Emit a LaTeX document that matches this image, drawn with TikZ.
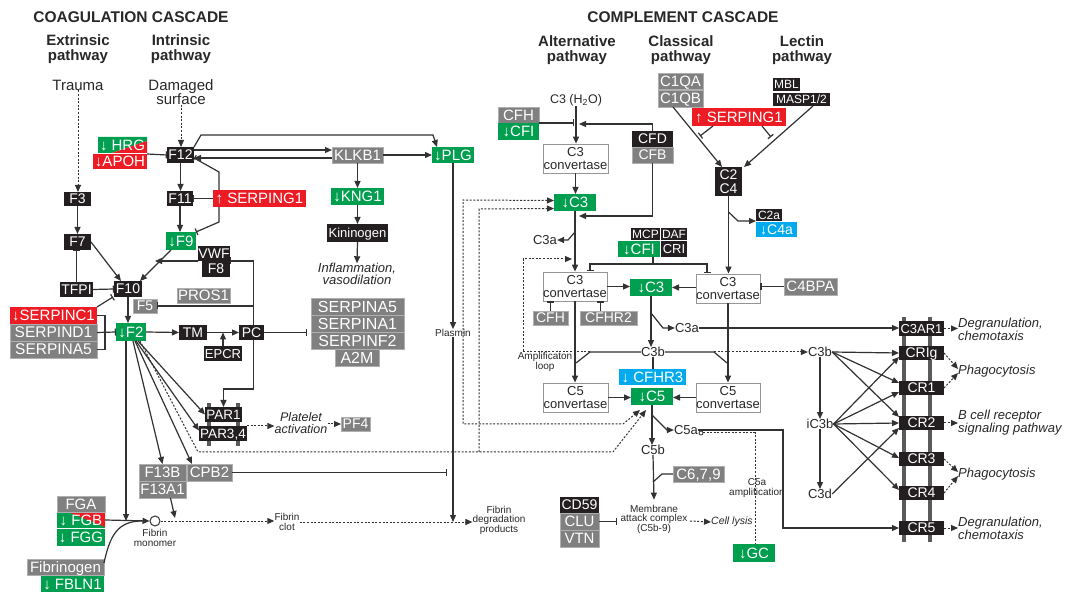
\documentclass[tikz,border=0pt]{standalone}
\usepackage{fontspec}
\setmainfont{Liberation Sans}
\usetikzlibrary{arrows.meta,calc}
\definecolor{kblack}{RGB}{35,31,32}
\definecolor{kgray}{RGB}{128,128,128}
\definecolor{kgrayb}{RGB}{175,175,175}
\definecolor{kgreen}{RGB}{0,158,79}
\definecolor{kred}{RGB}{237,28,36}
\definecolor{kblue}{RGB}{0,170,236}
\definecolor{lc}{RGB}{50,50,50}
\definecolor{tc}{RGB}{40,40,40}
\definecolor{barc}{RGB}{90,90,90}
\definecolor{convb}{RGB}{150,150,150}
\newcommand\fz[1]{\fontsize{#1}{#1}\selectfont}
\newcommand\B[7]{\node[#1, minimum width={(#5-#3)*1pt}, minimum height={(#6-#4)*1pt}] (#2) at ({(#3+#5)/2},{(#4+#6)/2}) {#7};}
\begin{document}
\begin{tikzpicture}[x=1pt,y=-1pt,
  bx/.style={rectangle, inner sep=0pt, outer sep=0pt, text=white, font=\fz{14}, text depth=0pt},
  fs/.style={font=\fz{#1}},
  blk/.style={bx, fill=kblack},
  gry/.style={bx, fill=kgray, draw=kgrayb, line width=0.6pt},
  grn/.style={bx, fill=kgreen},
  rdb/.style={bx, fill=kred},
  blu/.style={bx, fill=kblue},
  conv/.style={rectangle, inner sep=0pt, draw=convb, fill=white, line width=0.8pt, text=tc, align=center, font=\fontsize{13}{12.5}\selectfont},
  ln/.style={draw=lc, line width=1.2pt},
  ar/.style={ln, -{Triangle[length=7pt,width=6pt]}},
  inh/.style={ln, -{Bar[width=7pt]}},
  dt/.style={dash pattern=on 2pt off 1.6pt, line width=1pt},
  lab/.style={text=tc, inner sep=0pt, font=\fz{13}},
  sm/.style={text=tc, inner sep=0pt, align=center, font=\fontsize{10}{9.5}\selectfont},
  itl/.style={text=tc, inner sep=0pt, align=left, font=\itshape\fontsize{13}{11.5}\selectfont},
  hd/.style={text=tc, inner sep=0pt, align=center, font=\bfseries\fontsize{15}{14.5}\selectfont},
  big/.style={text=tc, inner sep=0pt, align=center, font=\fontsize{15}{14}\selectfont}
]
\useasboundingbox (0,0) rectangle (1074,593);
\fill[white] (0,0) rectangle (1074,593);

% ---------- headings ----------
\node[hd, font=\bfseries\fz{15.5}] (hcoag) at (131,17) {COAGULATION CASCADE};
\node[hd] (hext) at (78,49) {Extrinsic\\pathway};
\node[hd] (hint) at (181,49) {Intrinsic\\pathway};
\node[big] (trauma) at (78,85) {Trauma};
\node[big] (damaged) at (181,92) {Damaged\\surface};
\node[hd, font=\bfseries\fz{15.5}] (hcomp) at (683,17) {COMPLEMENT CASCADE};
\node[hd] (halt) at (577,50) {Alternative\\pathway};
\node[hd] (hcla) at (681,50) {Classical\\pathway};
\node[hd] (hlec) at (802,50) {Lectin\\pathway};

% ---------- membrane bars ----------
\fill[barc] (207,403) rectangle (210.5,446);
\fill[barc] (236,403) rectangle (239.5,446);
\fill[barc] (902,317) rectangle (906,542);
\fill[barc] (928,317) rectangle (932,542);

% ---------- split boxes ----------
\fill[kgreen] (98,137) -- (147,137) -- (147,141) -- (112,153) -- (98,153) -- cycle;
\fill[kred] (147,141) -- (147,153) -- (112,153) -- cycle;
\fill[kgreen] (57,512) rectangle (105,528);
\fill[kred] (68,512) -- (105,512) -- (105,527) -- cycle;

% ---------- coagulation boxes ----------
\B{bx,fs=15}{HRG}{98}{137}{147}{153}{↓ HRG}
\B{rdb,fs=15}{APOH}{93}{154}{147}{169}{↓APOH}
\B{blk}{F12}{167}{147}{194}{163}{F12}
\B{blk}{F3}{64}{192}{91}{206}{F3}
\B{blk}{F7}{64}{234}{91}{250}{F7}
\B{blk}{TFPI}{60}{282}{93}{297}{TFPI}
\B{blk}{F10}{114}{281}{142}{297}{F10}
\B{blk}{F11}{167}{191}{193}{206}{F11}
\B{rdb,fs=15}{SERPa}{213}{190}{306}{207}{↑ SERPING1}
\B{grn,fs=15}{F9}{166}{232}{196}{250}{↓F9}
\B{blk}{VWF}{198}{246}{230}{261}{VWF}
\B{blk}{F8}{202}{261}{230}{277}{F8}
\B{gry,fs=15}{PROS1}{177}{288}{230}{303}{PROS1}
\B{gry,fs=14}{F5}{133}{299}{157}{313}{F5}
\B{rdb,fs=15}{SPC1}{10}{307}{97}{324}{↓SERPINC1}
\B{gry,fs=15.5}{SPD1}{10}{324}{97}{341}{SERPIND1}
\B{gry,fs=15.5}{SPA5a}{10}{341}{97}{358}{SERPINA5}
\B{grn,fs=15}{F2}{116}{323}{146}{341}{↓F2}
\B{blk}{TM}{179}{325}{207}{340}{TM}
\B{blk}{PC}{239}{325}{264}{340}{PC}
\B{blk,fs=13}{EPCR}{204}{346}{242}{361}{EPCR}
\B{gry,fs=15}{KLKB1}{332}{147}{383}{163}{KLKB1}
\B{grn,fs=15}{PLG}{432}{147}{474}{163}{↓PLG}
\B{grn,fs=15}{KNG1}{331}{188}{384}{205}{↓KNG1}
\B{blk,fs=13}{Kin}{327}{224}{388}{242}{Kininogen}
\B{gry,fs=16}{SPA5b}{311}{298}{404}{315}{SERPINA5}
\B{gry,fs=16}{SPA1}{311}{315}{404}{332}{SERPINA1}
\B{gry,fs=16}{SPF2}{311}{332}{404}{349}{SERPINF2}
\B{gry,fs=16}{A2M}{335}{349}{379}{366}{A2M}
\B{blk,fs=13.5}{PAR1}{205}{407}{242}{422}{PAR1}
\B{blk,fs=13.5}{PAR34}{199}{426}{247}{441}{PAR3,4}
\B{gry,fs=14}{PF4}{341}{417}{370}{431}{PF4}
\B{gry,fs=15}{F13B}{139}{464}{186}{481}{F13B}
\B{gry,fs=15}{F13A1}{139}{481}{186}{498}{F13A1}
\B{gry,fs=15}{CPB2}{187}{464}{232}{481}{CPB2}
\B{gry,fs=15}{FGA}{57}{496}{105}{512}{FGA}
\B{bx,fs=15}{FGB}{57}{512}{105}{528}{↓ FGB}
\B{grn,fs=15}{FGG}{57}{529}{105}{546}{↓ FGG}
\B{gry,fs=15}{Fbg}{27}{559}{104}{575}{Fibrinogen}
\B{grn,fs=15}{FBLN1}{41}{576}{104}{592}{↓ FBLN1}

% ---------- coagulation labels ----------
\node[itl, align=center] (infl) at (357,274) {Inflammation,\\vasodilation};
\node[sm] (plasmin) at (453,333) {Plasmin};
\node[itl, align=center, font=\itshape\fontsize{12.5}{11.5}\selectfont] (plat) at (301,423) {Platelet\\activation};
\node[circle, draw=lc, line width=1pt, fill=white, minimum size=10pt, inner sep=0pt] (fm) at (155,521) {};
\node[sm] (fmtext) at (155,538) {Fibrin\\monomer};
\node[sm] (fclot) at (287,522) {Fibrin\\clot};
\node[sm] (fdp) at (499,520) {Fibrin\\degradation\\products};

% ---------- complement boxes ----------
\B{gry,fs=15}{CFH1}{498}{107}{539}{123}{CFH}
\B{grn,fs=15}{CFI1}{498}{123}{539}{140}{↓CFI}
\B{conv}{C3conv1}{543}{144}{608}{173}{C3\\convertase}
\B{blk,fs=14}{CFD}{632}{131}{673}{147}{CFD}
\B{gry,fs=14}{CFB}{632}{147}{673}{163}{CFB}
\B{grn,fs=15}{C3top}{554}{194}{596}{211}{↓C3}
\B{gry,fs=15}{C1QA}{658}{73}{703}{89}{C1QA}
\B{gry,fs=15}{C1QB}{658}{90}{703}{107}{C1QB}
\B{rdb,fs=15}{SERPb}{692}{108}{786}{126}{↑ SERPING1}
\B{blk,fs=12}{MBL}{773}{78}{800}{91}{MBL}
\B{blk,fs=12}{MASP}{773}{93}{830}{106}{MASP1/2}
\B{blk}{C2}{715}{167}{742}{182}{C2}
\B{blk}{C4}{715}{182}{742}{196}{C4}
\B{blk,fs=12}{C2a}{756}{209}{782}{221}{C2a}
\B{blu,fs=14}{C4a}{756}{222}{797}{237}{↓C4a}
\B{blk,fs=12}{MCP}{631}{228}{660}{240}{MCP}
\B{blk,fs=12}{DAF}{661}{228}{687}{240}{DAF}
\B{grn,fs=15}{CFI2}{618}{241}{660}{257}{↓CFI}
\B{blk,fs=13}{CRI}{661}{241}{687}{257}{CRI}
\B{conv}{C3conv2}{543}{272}{607}{301}{C3\\convertase}
\B{conv}{C3conv3}{696}{274}{760}{303}{C3\\convertase}
\B{gry,fs=15}{C4BPA}{784}{278}{837}{295}{C4BPA}
\B{grn,fs=15}{C3mid}{630}{279}{672}{296}{↓C3}
\B{gry,fs=14}{CFH2}{533}{311}{568}{325}{CFH}
\B{gry,fs=14}{CFHR2}{580}{311}{637}{325}{CFHR2}
\B{blu,fs=15}{CFHR3}{619}{369}{686}{385}{↓ CFHR3}
\B{conv}{C5conv1}{543}{383}{608}{412}{C5\\convertase}
\B{conv}{C5conv2}{696}{383}{760}{412}{C5\\convertase}
\B{grn,fs=15}{C5}{631}{388}{673}{405}{↓C5}
\B{gry,fs=15}{C679}{673}{466}{724}{482}{C6,7,9}
\B{blk,fs=14}{CD59}{560}{497}{599}{513}{CD59}
\B{gry,fs=15}{CLU}{560}{513}{599}{530}{CLU}
\B{gry,fs=15}{VTN}{560}{530}{599}{547}{VTN}
\B{grn,fs=15}{GC}{733}{544}{775}{562}{↓GC}
\B{blk,fs=13}{C3AR1}{899}{321}{944}{336}{C3AR1}
\B{blk}{CRIg}{899}{346}{944}{360}{CRIg}
\B{blk}{CR1}{899}{381}{944}{395}{CR1}
\B{blk}{CR2}{899}{416}{944}{430}{CR2}
\B{blk}{CR3}{899}{452}{944}{466}{CR3}
\B{blk}{CR4}{899}{486}{944}{500}{CR4}
\B{blk}{CR5}{899}{521}{944}{535}{CR5}

% ---------- complement labels ----------
\node[lab, font=\fz{12.5}] (c3h2o) at (576,100) {C3 (H\textsubscript{2}O)};
\node[lab] (C3a1) at (545,240) {C3a};
\node[lab] (C3a2) at (687,328) {C3a};
\node[lab] (C3b) at (653,352) {C3b};
\node[lab] (C5b) at (653,450) {C5b};
\node[lab] (C5a) at (686,430) {C5a};
\node[lab] (C3b2) at (820,352) {C3b};
\node[lab] (iC3b) at (820,424) {iC3b};
\node[lab] (C3d) at (820,494) {C3d};
\node[sm] (amp) at (545,362) {Amplificaton\\loop};
\node[sm] (mac) at (654,519) {Membrane\\attack complex\\(C5b-9)};
\node[itl, font=\itshape\fz{10.5}, anchor=west] (lysis) at (711,522) {Cell lysis};
\node[sm] (c5amp) at (757,488) {C5a\\amplification};
\node[itl, anchor=west] (deg1) at (958,329) {Degranulation,\\chemotaxis};
\node[itl, anchor=west] (phago1) at (958,371) {Phagocytosis};
\node[itl, anchor=west] (bcell) at (958,423) {B cell receptor\\signaling pathway};
\node[itl, anchor=west] (phago2) at (958,474) {Phagocytosis};
\node[itl, anchor=west] (deg2) at (958,528) {Degranulation,\\chemotaxis};

% ---------- coagulation connectors ----------
\draw[ar,dt] (trauma.south) -- (trauma.south |- F3.north);
\draw[ar,dt] (damaged.south) -- (damaged.south |- F12.north);
\draw[ar] (F3.south) -- (F7.north);
\draw[inh] (TFPI.north) -- (TFPI.north |- F7.south);
\draw[inh] (TFPI.east) -- (F10.west);
\draw[ar] (F7.east) -- ([xshift=7pt]F10.north west);
\draw[ar] ([xshift=5pt]F9.south west) -- ([xshift=-2pt]F10.north east);
\draw[ar] (VWF.south west) -- (155,261);
\draw[inh] (SPC1.north east) -- ([xshift=-1pt]F10.south west);
\draw[ln] (SPC1.east) -- ++(8,0) |- (SPA5a.east);
\draw[inh] (SPD1.east) -- (F2.west);
\draw[ar] (F10.south) -- (F10.south |- F2.north);
\draw[ar] (F12.south) -- (F12.south |- F11.north);
\draw[ar] (F11.south) -- (F11.south |- F9.north);
\draw[inh] (SERPa.west) -- (F11.east);
\draw[inh] (219,190) -- (219,172) -- ([yshift=-3pt]F12.east);
\draw[inh] (219,207) -- (219,222) -- (F9.north east);
\draw[inh] (APOH.north east) -- (F12.west);
\draw[ar] ([yshift=5pt]F12.east) -- ([yshift=5pt]KLKB1.west);
\draw[ar] ([yshift=-3pt]KLKB1.west) -- ([yshift=-3pt]F12.east);
\draw[ar] (F12.north east) -- (201,135) -- (433,135) -- ([xshift=5pt]PLG.north west);
\draw[ar] (KLKB1.east) -- (PLG.west);
\draw[ar] (KLKB1.south) -- (KNG1.north);
\draw[ar] (KNG1.south) -- (Kin.north);
\draw[ar] (Kin.south) -- (infl.north);
\draw[ar] (PLG.south) -- (plasmin.north);
\draw[ar] (plasmin.south) -- (plasmin.south |- fclot.east);
\draw[inh] (CPB2.east) -- (447,472.5);
\draw[ar] (F2.east) -- (TM.west);
\draw[ar] (TM.east) -- (PC.west);
\draw[ar] (EPCR.north) -- (EPCR.north |- TM.east);
\draw[inh] ([xshift=2pt]PC.north) -- ([xshift=2pt]PC.north |- F8.north east) -- (F8.north east);
\draw[inh] ([xshift=2pt]PC.north |- F5.east) -- (F5.east);
\draw[ar] ([xshift=2pt]PC.south) -- ++(0,49) -| (PAR1.north);
\draw[inh] (PC.east) -- ([xshift=-4pt]SPA1.west |- PC.east);
\draw[ar] ([xshift=-5pt]F2.south) -- ([xshift=-5pt]F2.south |- fm.west);
\draw[ar] ([xshift=2pt]F2.south) -- (F13B.north);
\draw[ar] ([xshift=4pt]F2.south) -- ([xshift=5pt]CPB2.north west);
\draw[ar] ([xshift=7pt]F2.south) -- (PAR1.west);
\draw[ar] ([xshift=5pt]F2.south) -- ([yshift=3pt]PAR34.west);
\draw[ar,dt] ([xshift=9pt]F2.south) -- (198,452) -- (613,452) -- (646,410);
\draw[ar,dt] (479,452) -- (479,209) -- ([yshift=-6pt]C3top.west);
\draw[ln,dt,{Triangle[length=7pt,width=6pt]}-{Triangle[length=7pt,width=6pt]}] ([yshift=2pt]C3top.west) -- (463,200) -- (463,424) -- (623,424) -- (640,410);
\draw[ar,dt] (PAR34.north east) -- (plat.west |- PAR34.north east);
\draw[ar,dt] (plat.east |- PF4.west) -- (PF4.west);
\draw[ar] (FGB.east) -- (fm.west);
\draw[ln] ([yshift=4pt]Fbg.east) .. controls (110,535) and (118,521) .. (142,521);
\draw[ar] ([xshift=8pt]F13A1.south) -- (175,518);
\draw[ar,dt] (fm.east) -- (fclot.west |- fm.east);
\draw[ar,dt] (fclot.east) -- (fdp.west |- fclot.east);

% ---------- complement connectors ----------
\draw[ar] (c3h2o.south) -- (c3h2o.south |- C3conv1.north);
\draw[inh] (CFH1.south east) -- (574,123);
\draw[ar] (CFD.north) |- (579,124);
\draw[ar] (CFB.south) |- (579,216);
\draw[ar] (C3conv1.south) -- (C3conv1.south |- C3top.north);
\draw[ar] (C3top.south) -- (C3top.south |- C3conv2.north);
\draw[ar] (575,232) -- (568,240) -- (C3a1.east);
\draw[ar,dt] (590,352) -- (523,352) -- (523,259) -- (572,259);
\draw[ar] ([xshift=-7.5pt]C1QB.south) -- ([xshift=7pt]C2.north west);
\draw[ar] ([xshift=-17pt]MASP.south east) -- ([xshift=2pt]C2.north east);
\draw[inh] ([xshift=21pt]SERPb.south west) -- (700,136);
\draw[inh] ([xshift=-24pt]SERPb.south east) -- (771,137);
\draw[ar] (C4.south) -- (C4.south |- C3conv3.north);
\draw[ar] (728.5,212) -- (738,221) -- (C2a.south west);
\draw[ln] (653,257) -- (653,264);
\draw[inh] (653,264) -| (590,271);
\draw[inh] (653,264) -| (707,273);
\draw[ar] (C3conv2.east) -- (C3mid.west |- C3conv2.east);
\draw[ar] (C3conv3.west |- C3mid.east) -- (C3mid.east);
\draw[inh] (C4BPA.west) -- (C3conv3.east |- C4BPA.west);
\draw[inh] (CFH2.north) -- (CFH2.north |- C3conv2.south);
\draw[inh] ([xshift=-8pt]CFHR2.north) -- ([xshift=-8pt]CFHR2.north |- C3conv2.south);
\draw[ar] (C3mid.south) -- (C3mid.south |- C3b.north);
\draw[ar] (651,313) -- (663,328) -- (C3a2.west);
\draw[ar] (C3a2.east) -- (C3AR1.west |- C3a2.east);
\draw[ln] (C3b.west) -- (590,352) -- (576,363);
\draw[ln] (C3b.east) -- (714,352) -- (727,363);
\draw[ar,dt] (714,352) -- (C3b2.west);
\draw[ln] (C3b.south) -- (C3b.south |- CFHR3.north);
\draw[ar] (C3conv2.south) -- (C3conv2.south |- C5conv1.north);
\draw[ar] (C3conv3.south) -- (C3conv3.south |- C5conv2.north);
\draw[ar] (C5conv1.east) -- (C5.west |- C5conv1.east);
\draw[ar] (C5conv2.west) -- (C5.east |- C5conv2.west);
\draw[ar] (C5.south) -- (C5.south |- C5b.north);
\draw[ar] (652,415) -- (667,430) -- (C5a.west);
\draw[ar] (C5a.east) -- (783,430) -- (783,528) -- (CR5.west);
\draw[ln, line width=0.8pt] (701,433) circle (2);
\draw[ln,dt] (703,433) -- (755,433) -- (755,544);
\draw[ar] (C5b.south) -- ([yshift=5pt]mac.north);
\draw[ln] (C679.west) -- (662,474) -- (653,482);
\draw[inh] (CLU.east) -- (617,521.5);
\draw[ar,dt] (690,521) -- (lysis.west);
\draw[ar] (C3b2.south) -- (iC3b.north);
\draw[ar] (iC3b.south) -- (C3d.north);
\draw[ar] (C3b2.east) -- (CRIg.west);
\draw[ar] (C3b2.east) -- ([yshift=5pt]CR1.west);
\draw[ar] (C3b2.east) -- ([yshift=6pt]CR2.west);
\draw[ar] (iC3b.east) -- ([yshift=-4pt]CRIg.west);
\draw[ar] (iC3b.east) -- ([yshift=-4pt]CR1.west);
\draw[ar] (iC3b.east) -- (CR2.west);
\draw[ar] (iC3b.east) -- ([yshift=1pt]CR3.west);
\draw[ar] (iC3b.east) -- ([yshift=3pt]CR4.west);
\draw[ar] (C3d.east) -- ([yshift=-5pt]CR2.west);
\draw[ar,dt] (C3AR1.east) -- (deg1.west |- C3AR1.east);
\draw[ar,dt] (CRIg.east) -- ([yshift=2pt]phago1.west);
\draw[ar,dt] (CR1.east) -- ([yshift=-2pt]phago1.west);
\draw[ar,dt] (CR2.east) -- (bcell.west |- CR2.east);
\draw[ar,dt] (CR3.east) -- ([yshift=2pt]phago2.west);
\draw[ar,dt] (CR4.east) -- ([yshift=-2pt]phago2.west);
\draw[ar,dt] (CR5.east) -- (deg2.west |- CR5.east);
\end{tikzpicture}
\end{document}
